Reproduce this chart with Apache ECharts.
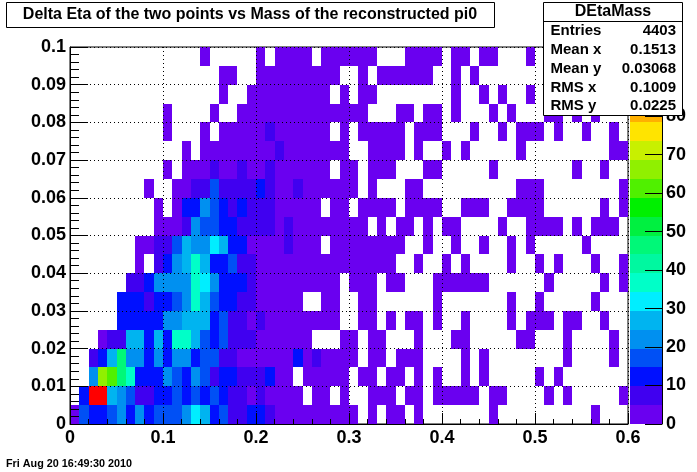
<!DOCTYPE html>
<html><head><meta charset="utf-8">
<style>html,body{margin:0;padding:0;background:#fff}#c{width:697px;height:472px}</style>
<script src="https://cdn.jsdelivr.net/npm/echarts@6/dist/echarts.min.js"></script>
</head><body><div id="c"></div>
<script>
const titleText = 'Delta Eta of the two points vs Mass of the reconstructed pi0';
const dateText = 'Fri Aug 20 16:49:30 2010';
const statsName = 'DEtaMass';
const statsLabels = ['Entries', 'Mean x', 'Mean y', 'RMS x', 'RMS y'];
const statsValues = ['4403', '0.1513', '0.03068', '0.1009', '0.0225'];
const xBinWidth = 0.01;
const yBinWidth = 0.005;
const zMax = 98;
const palette = ['#6a00f0','#4000f0','#0010ff','#0050f5','#0090f0','#00b4f0','#00eeff','#00ffc8','#00f8a0','#00f878',
                 '#00f040','#00f000','#50f000','#90f000','#c8f000','#ffe400','#ffb000','#ff8000','#ff4000','#ff0000'];

// Bin contents, one list per row of y bins (bottom row first), 60 x bins each
const row00 = [2,17,12,12,17,22,12,22,12,17, 17,17,22,32,27,12,17,7,7,12, 12,7,2,2,2,2,2,2,2,2, 2,0,2,0,2,2,0,2,0,0, 0,0,0,0,0,2,0,0,0,0, 0,0,0,0,0,0,2,0,0,0];
const row01 = [0,12,97,97,27,22,17,7,7,12, 12,17,12,17,12,17,12,7,7,2, 7,2,2,2,2,0,2,2,0,2, 0,0,2,2,2,0,2,2,0,2, 2,2,2,2,0,2,2,0,0,0, 0,2,0,2,0,0,0,0,0,2];
const row02 = [0,0,22,67,62,47,37,12,12,12, 22,17,12,22,17,7,12,12,7,7, 7,12,2,2,0,2,2,2,2,2, 0,2,2,0,2,2,0,2,0,2, 0,0,2,0,2,0,0,0,0,0, 2,0,2,0,0,0,0,0,0,0];
const row03 = [0,0,5,12,27,47,22,22,12,22, 12,22,22,12,17,17,7,7,2,2, 2,2,2,2,12,2,7,2,2,2, 2,0,2,2,0,2,2,2,0,0, 0,0,2,0,2,0,0,0,0,0, 0,0,0,2,0,0,0,0,2,0];
const row04 = [0,0,0,4,7,7,27,27,12,27, 12,37,37,27,17,12,17,7,7,7, 2,2,2,2,2,2,0,0,0,2, 2,0,2,2,0,0,0,2,0,0, 0,2,2,0,0,0,0,0,2,2, 0,0,0,2,0,0,0,0,2,0];
const row05 = [0,0,0,0,0,12,12,12,12,12, 22,22,27,27,27,12,17,7,7,2, 7,2,2,2,2,2,2,2,2,0, 0,2,2,0,2,0,2,2,0,2, 0,0,2,0,0,0,0,2,0,2, 2,2,0,2,2,0,0,2,0,0];
const row06 = [0,0,0,0,0,12,12,12,7,12, 12,17,22,37,27,17,12,12,7,7, 2,2,2,2,2,0,0,2,2,0, 0,2,2,0,0,0,0,0,0,2, 0,0,0,0,0,0,0,2,0,0, 2,0,0,0,0,0,2,0,0,0];
const row07 = [0,0,0,0,0,0,7,7,12,22, 22,22,22,37,32,22,12,12,12,7, 2,2,2,2,2,2,2,2,2,0, 2,2,2,0,2,2,0,0,0,2, 2,2,2,2,2,0,0,0,0,0, 0,2,0,0,0,0,0,2,0,2];
const row08 = [0,0,0,0,0,0,0,2,0,7, 12,22,27,37,27,12,12,17,7,7, 2,2,2,2,2,2,2,2,2,2, 2,2,2,2,2,0,0,2,0,0, 2,0,2,0,0,0,0,2,0,0, 2,0,2,0,0,0,2,0,0,2];
const row09 = [0,0,0,0,0,0,0,2,2,7, 7,17,27,22,22,32,27,12,12,2, 2,2,2,7,2,2,2,0,2,2, 2,2,2,2,2,2,0,0,2,0, 0,2,0,0,2,0,0,2,0,2, 0,0,0,0,0,2,0,0,0,0];
const row10 = [0,0,0,0,0,0,0,0,0,2, 2,2,7,22,17,17,12,12,7,7, 7,7,2,7,2,2,2,2,2,2, 2,2,0,2,0,2,2,0,2,0, 2,2,0,0,0,0,2,0,0,2, 2,2,2,0,2,0,2,2,2,0];
const row11 = [0,0,0,0,0,0,0,0,0,2, 0,2,12,12,22,17,12,7,12,7, 7,7,2,2,2,2,2,0,2,2, 0,2,2,2,2,0,2,2,2,2, 0,0,2,2,2,0,0,2,2,2, 2,0,0,0,0,0,0,2,0,2];
const row12 = [0,0,0,0,0,0,0,0,2,0, 0,2,2,7,7,17,7,7,7,7, 12,7,2,2,7,2,2,2,2,2, 2,0,2,0,0,0,2,2,0,0, 0,0,0,0,0,0,0,0,2,2, 2,0,0,0,0,0,0,0,0,2];
const row13 = [0,0,0,0,0,0,0,0,0,0, 2,0,2,2,2,7,2,2,7,2, 2,7,2,2,2,2,2,2,0,2, 2,0,2,2,2,0,0,0,2,2, 0,0,0,0,0,2,0,0,0,0, 0,0,0,0,2,0,0,2,0,0];
const row14 = [0,0,0,0,0,0,0,0,0,0, 0,0,2,0,2,2,2,2,2,2, 2,2,7,2,2,2,2,2,2,2, 0,0,2,2,2,2,0,2,0,0, 2,0,2,0,0,0,0,0,2,0, 0,0,0,0,0,0,0,0,2,2];
const row15 = [0,0,0,0,0,0,0,0,0,0, 2,0,0,0,2,0,2,2,2,2, 2,7,2,2,2,2,2,2,0,2, 0,2,2,2,2,2,0,2,2,2, 0,0,0,2,0,0,2,0,2,2, 2,0,2,0,0,2,0,0,2,0];
const row16 = [0,0,0,0,0,0,0,0,0,0, 2,0,0,0,0,2,0,0,2,2, 2,2,2,2,2,2,2,2,2,2, 2,2,0,0,0,2,2,0,2,2, 0,2,0,0,0,2,0,2,0,0, 0,2,2,0,2,0,2,0,0,0];
const row17 = [0,0,0,0,0,0,0,0,0,0, 0,0,0,0,0,0,2,0,0,2, 2,2,2,2,2,2,2,2,0,2, 0,2,2,0,0,0,0,0,0,0, 0,2,0,0,2,0,2,0,0,2, 0,0,0,0,0,0,0,0,0,0];
const row18 = [0,0,0,0,0,0,0,0,0,0, 0,0,0,0,0,0,2,2,0,0, 2,2,2,2,2,2,2,2,2,0, 0,2,0,2,2,2,2,2,2,0, 0,2,0,2,0,0,0,0,0,0, 0,0,0,0,0,0,0,0,0,0];
const row19 = [0,0,0,0,0,0,0,0,0,0, 0,0,0,0,2,0,0,0,0,0, 2,0,2,2,2,2,0,2,2,2, 2,2,2,0,0,0,2,2,2,2, 0,2,2,0,2,2,0,0,0,2, 0,0,0,0,0,0,0,0,0,0];
const rows = [row00,row01,row02,row03,row04,row05,row06,row07,row08,row09,row10,row11,row12,row13,row14,row15,row16,row17,row18,row19];

const bandWidth = zMax / palette.length;
const cells = [];
rows.forEach((r, j) => r.forEach((v, i) => {
  if (v > 0) cells.push([i * xBinWidth, j * yBinWidth, v]);
}));
const bands = palette.map((c, k) => [k * bandWidth, (k + 1) * bandWidth, k]);

const FONT = '"Liberation Sans", Arial, sans-serif';
const axisFont = { color: '#000', fontFamily: FONT, fontWeight: 'bold', fontSize: 18 };
const fmt = v => (v === 0 ? '0' : String(+v.toFixed(3)));
const chart = echarts.init(document.getElementById('c'), null, { renderer: 'canvas' });

const statsGraphics = [
  { type: 'rect', z: 100, shape: { x: 6.5, y: 2.5, width: 488, height: 25 }, style: { fill: '#fff', stroke: '#000', lineWidth: 1 } },
  { type: 'rect', z: 100, shape: { x: 543.5, y: 2.5, width: 139, height: 113 }, style: { fill: '#fff', stroke: '#000', lineWidth: 1 } },
  { type: 'line', z: 100, shape: { x1: 543.5, y1: 21.5, x2: 682.5, y2: 21.5 }, style: { stroke: '#000', lineWidth: 1 } },
  { type: 'text', z: 101, style: { x: 613, y: 12, text: statsName, align: 'center', verticalAlign: 'middle', fill: '#000', font: 'bold 16px ' + FONT } },
  { type: 'text', z: 101, style: { x: 250, y: 15, text: titleText, align: 'center', verticalAlign: 'middle', fill: '#000', font: 'bold 16px ' + FONT } },
  { type: 'text', z: 101, style: { x: 6, y: 464, text: dateText, align: 'left', verticalAlign: 'middle', fill: '#000', font: 'bold 10.8px ' + FONT } }
];
statsLabels.forEach((t, i) => {
  const y = 31 + i * 18.8;
  statsGraphics.push({ type: 'text', z: 101, style: { x: 550.5, y, text: t, align: 'left', verticalAlign: 'middle', fill: '#000', font: 'bold 15px ' + FONT } });
  statsGraphics.push({ type: 'text', z: 101, style: { x: 676, y, text: statsValues[i], align: 'right', verticalAlign: 'middle', fill: '#000', font: 'bold 15px ' + FONT } });
});

chart.setOption({
  animation: false,
  backgroundColor: '#fff',
  graphic: statsGraphics,
  grid: [
    { left: 70, top: 47, width: 558, height: 377, show: true, borderColor: '#000', borderWidth: 1, backgroundColor: '#fff' },
    { left: 630, top: 47, width: 32, height: 377 }
  ],
  xAxis: [
    { type: 'value', gridIndex: 0, min: 0, max: 0.6, interval: 0.1, z: 3,
      axisLine: { show: true, onZero: false, lineStyle: { color: '#000' } },
      axisTick: { show: true, inside: true, length: 11, lineStyle: { color: '#000' } },
      minorTick: { show: true, splitNumber: 5, length: 5, lineStyle: { color: '#000' } },
      splitLine: { show: true, lineStyle: { color: '#000', type: [1, 3], width: 1 } },
      minorSplitLine: { show: false },
      axisLabel: Object.assign({ margin: 5, formatter: fmt, showMinLabel: true, showMaxLabel: true, hideOverlap: false }, axisFont) },
    { type: 'value', gridIndex: 1, min: 0, max: 1, show: false }
  ],
  yAxis: [
    { type: 'value', gridIndex: 0, min: 0, max: 0.1, interval: 0.01, z: 3,
      axisLine: { show: true, onZero: false, lineStyle: { color: '#000' } },
      axisTick: { show: true, inside: true, length: 18, lineStyle: { color: '#000' } },
      minorTick: { show: true, splitNumber: 5, length: 9, lineStyle: { color: '#000' } },
      splitLine: { show: true, lineStyle: { color: '#000', type: [1, 3], width: 1 } },
      minorSplitLine: { show: false },
      axisLabel: Object.assign({ margin: 4, formatter: fmt, hideOverlap: false }, axisFont) },
    { type: 'value', gridIndex: 1, position: 'right', min: 0, max: zMax, interval: 10, z: 3,
      axisLine: { show: true, onZero: false, lineStyle: { color: '#000' } },
      axisTick: { show: true, inside: true, length: 17, lineStyle: { color: '#000' } },
      splitLine: { show: false },
      axisLabel: Object.assign({ margin: 4, hideOverlap: false, showMaxLabel: true, formatter: v => (v % 10 === 0 && v < 90 ? String(v) : '') }, axisFont) }
  ],
  series: [
    { type: 'custom', xAxisIndex: 0, yAxisIndex: 0, z: 1, silent: true, clip: true,
      data: cells,
      encode: { x: 0, y: 1 },
      renderItem: (params, api) => {
        const a = api.coord([api.value(0), api.value(1)]);
        const b = api.coord([api.value(0) + xBinWidth, api.value(1) + yBinWidth]);
        const band = Math.min(palette.length - 1, Math.floor(api.value(2) / bandWidth));
        const x = Math.round(a[0]), y = Math.round(b[1]);
        return { type: 'rect', shape: { x, y, width: Math.round(b[0]) - x, height: Math.round(a[1]) - y }, style: { fill: palette[band] } };
      } },
    { type: 'custom', xAxisIndex: 1, yAxisIndex: 1, z: 1, silent: true,
      data: bands,
      encode: { y: [0, 1] },
      renderItem: (params, api) => {
        const a = api.coord([0, api.value(0)]);
        const b = api.coord([1, api.value(1)]);
        const y = Math.round(b[1]);
        return { type: 'rect', shape: { x: a[0], y, width: b[0] - a[0], height: Math.round(a[1]) - y }, style: { fill: palette[api.value(2)] } };
      } }
  ]
});
</script></body></html>
